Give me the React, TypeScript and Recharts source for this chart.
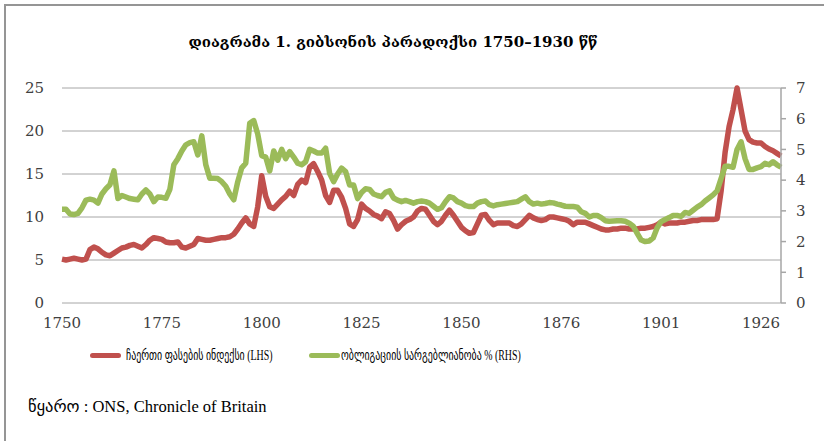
import React from "react";
import { LineChart, Line, XAxis, YAxis, CartesianGrid } from "recharts";

// years on the category axis: 1750–1850, then 1852–1931 (1851 is missing in the source)
const firstYears = Array.from({ length: 101 }, (_, i) => 1750 + i);
const laterYears = Array.from({ length: 80 }, (_, i) => 1852 + i);
const years = [...firstYears, ...laterYears];

const xTickLabels = ["1750", "1775", "1800", "1825", "1850", "1876", "1901", "1926"];
const leftTicks = [0, 5, 10, 15, 20, 25];
const rightTicks = [0, 1, 2, 3, 4, 5, 6, 7];

// wholesale price index (LHS)
const priceIndex = [
  5.1, 5.0, 5.1, 5.2, 5.1, 5.0, 5.1, 6.2, 6.5, 6.3,
  5.9, 5.6, 5.5, 5.8, 6.1, 6.4, 6.5, 6.7, 6.8, 6.6,
  6.4, 6.8, 7.3, 7.6, 7.5, 7.4, 7.1, 7.0, 7.0, 7.1,
  6.5, 6.4, 6.6, 6.8, 7.5, 7.4, 7.3, 7.3, 7.4, 7.5,
  7.6, 7.6, 7.7, 8.0, 8.6, 9.3, 9.9, 9.2, 8.9, 11.2,
  14.8, 12.4, 11.2, 11.0, 11.5, 12.0, 12.4, 13.0, 12.5, 13.8,
  14.3, 14.0, 15.8, 16.2, 15.3, 14.3, 12.5, 11.7, 13.1, 13.1,
  12.3, 11.0, 9.2, 8.9, 9.7, 11.5, 11.0, 10.7, 10.3, 10.1,
  9.8, 10.6, 10.4, 9.6, 8.6, 9.1, 9.5, 9.7, 10.0, 10.7,
  11.0, 10.9, 10.2, 9.5, 9.1, 9.5, 10.2, 10.8, 10.2, 9.5,
  8.8, 8.4, 8.1, 8.2, 9.2, 10.2, 10.3, 9.6, 9.1, 9.3,
  9.3, 9.3, 9.3, 9.0, 8.9, 9.2, 9.7, 10.2, 9.9, 9.7,
  9.6, 9.7, 10.0, 10.0, 9.9, 9.8, 9.7, 9.5, 9.1, 9.4,
  9.4, 9.4, 9.2, 9.0, 8.8, 8.6, 8.5, 8.5, 8.6, 8.6,
  8.7, 8.7, 8.6, 8.6, 8.6, 8.7, 8.7, 8.8, 8.9, 9.1,
  9.4, 9.2, 9.3, 9.3, 9.3, 9.4, 9.4, 9.5, 9.6, 9.6,
  9.7, 9.7, 9.7, 9.7, 9.8, 13.0, 17.5, 20.5, 22.5, 25.0,
  22.5, 20.0, 19.0, 18.7, 18.6, 18.6, 18.2, 17.9, 17.7, 17.4,
  17.1,
];

// bond yield % (RHS)
const bondYield = [
  3.05, 3.05, 2.9, 2.88, 2.92, 3.1, 3.35, 3.38, 3.35, 3.25,
  3.55, 3.72, 3.85, 4.3, 3.4, 3.5, 3.45, 3.4, 3.38, 3.36,
  3.55, 3.68, 3.55, 3.3, 3.45, 3.44, 3.41, 3.7, 4.5, 4.7,
  4.95, 5.15, 5.22, 5.25, 4.82, 5.44, 4.5, 4.06, 4.06, 4.05,
  3.95, 3.8, 3.55, 3.36, 3.95, 4.4, 4.55, 5.85, 5.94, 5.5,
  4.8, 4.75, 4.3, 4.95, 4.65, 5.0, 4.7, 4.93, 4.75, 4.55,
  4.5, 4.6, 5.0, 4.95, 4.88, 4.88, 5.04, 4.22, 3.95, 4.2,
  4.39, 4.28, 3.84, 3.84, 3.4, 3.6, 3.72, 3.7, 3.55, 3.5,
  3.46, 3.6, 3.65, 3.42, 3.35, 3.3, 3.34, 3.3, 3.25, 3.3,
  3.32, 3.3, 3.25, 3.15, 3.05, 3.1, 3.3, 3.46, 3.42, 3.3,
  3.25, 3.17, 3.14, 3.14, 3.25, 3.3, 3.32, 3.2, 3.16, 3.2,
  3.22, 3.24, 3.26, 3.28, 3.3, 3.38, 3.46, 3.3, 3.22, 3.25,
  3.22, 3.24, 3.27, 3.26, 3.22, 3.19, 3.15, 3.14, 3.14, 3.12,
  2.97, 2.92, 2.8, 2.85, 2.85, 2.78, 2.68, 2.66, 2.67, 2.68,
  2.68, 2.66, 2.6, 2.5, 2.27, 2.05, 2.0, 2.02, 2.12, 2.45,
  2.65, 2.72, 2.78, 2.85, 2.85, 2.82, 2.95, 2.92, 3.02, 3.12,
  3.2, 3.32, 3.42, 3.52, 3.65, 4.05, 4.45, 4.45, 4.42, 5.0,
  5.25, 4.7, 4.35, 4.35, 4.4, 4.44, 4.55, 4.5, 4.6, 4.5,
  4.42,
];

const RED = "#C0504D";
const GREEN = "#9BBB59";
const tickFont = { fontSize: 15, fill: "#404040", fontFamily: "DejaVu Serif" };

const data = years.map((y, i) => ({
  year: String(y),
  price: priceIndex[i],
  yield: bondYield[i],
}));

const legendRow: React.CSSProperties = {
  position: "absolute",
  top: 346,
  display: "flex",
  alignItems: "center",
  fontFamily: "Liberation Serif, DejaVu Sans",
  fontSize: 15,
  color: "#000",
  whiteSpace: "nowrap",
};

const squeezed: React.CSSProperties = {
  display: "inline-block",
  transform: "scaleX(0.66)",
  transformOrigin: "left center",
};

export default function App() {
  return (
    <div style={{ position: "absolute", left: 0, top: 0, width: 824, height: 441, background: "#fff", overflow: "hidden" }}>
      <div
        style={{
          position: "absolute",
          left: 4,
          top: 4,
          width: 830,
          height: 450,
          borderLeft: "2px solid #959595",
          borderTop: "2px solid #959595",
        }}
      />
      <div
        style={{
          position: "absolute",
          left: 0,
          width: 786,
          top: 33,
          textAlign: "center",
          fontFamily: "DejaVu Serif",
          fontWeight: "bold",
          fontSize: 15,
          color: "#000",
        }}
      >
        დიაგრამა 1. გიბსონის პარადოქსი 1750–1930 წწ
      </div>
      <div style={{ position: "absolute", left: 0, top: 0 }}>
        <LineChart width={824} height={340} data={data} margin={{ top: 88, right: 13, bottom: 7, left: 2 }}>
          <CartesianGrid yAxisId="left" vertical={false} stroke="#a6a6a6" strokeWidth={1} />
          <XAxis
            dataKey="year"
            ticks={xTickLabels}
            interval={0}
            axisLine={false}
            tickLine={false}
            tickSize={0}
            tickMargin={14}
            height={30}
            tick={tickFont}
          />
          <YAxis
            yAxisId="left"
            domain={[0, 25]}
            ticks={leftTicks}
            axisLine={false}
            tickLine={false}
            tickSize={0}
            tickMargin={18}
            width={60}
            tick={tickFont}
          />
          <YAxis
            yAxisId="right"
            orientation="right"
            domain={[0, 7]}
            ticks={rightTicks}
            axisLine={{ stroke: "#a6a6a6", strokeWidth: 1.5 }}
            tickLine={{ stroke: "#a6a6a6", strokeWidth: 1.5 }}
            tickSize={5}
            tickMargin={10}
            width={30}
            tick={tickFont}
          />
          <Line
            yAxisId="left"
            dataKey="price"
            stroke={RED}
            strokeWidth={5.5}
            dot={false}
            strokeLinejoin="round"
            isAnimationActive={false}
          />
          <Line
            yAxisId="right"
            dataKey="yield"
            stroke={GREEN}
            strokeWidth={5.5}
            dot={false}
            strokeLinejoin="round"
            isAnimationActive={false}
          />
        </LineChart>
      </div>
      <div style={{ ...legendRow, left: 90 }}>
        <span style={{ display: "inline-block", width: 31, height: 5, borderRadius: 3, background: RED, marginRight: 5 }} />
        <span style={squeezed}>ჩაერთი ფასების ინდექსი (LHS)</span>
      </div>
      <div style={{ ...legendRow, left: 309 }}>
        <span style={{ display: "inline-block", width: 31, height: 5, borderRadius: 3, background: GREEN, marginRight: 1 }} />
        <span style={squeezed}>ობლიგაციის სარგებლიანობა % (RHS)</span>
      </div>
      <div style={{ position: "absolute", top: 397, left: 28, fontFamily: "Liberation Serif, DejaVu Sans", fontSize: 16.5, color: "#000" }}>
        წყარო : ONS, Chronicle of Britain
      </div>
    </div>
  );
}
